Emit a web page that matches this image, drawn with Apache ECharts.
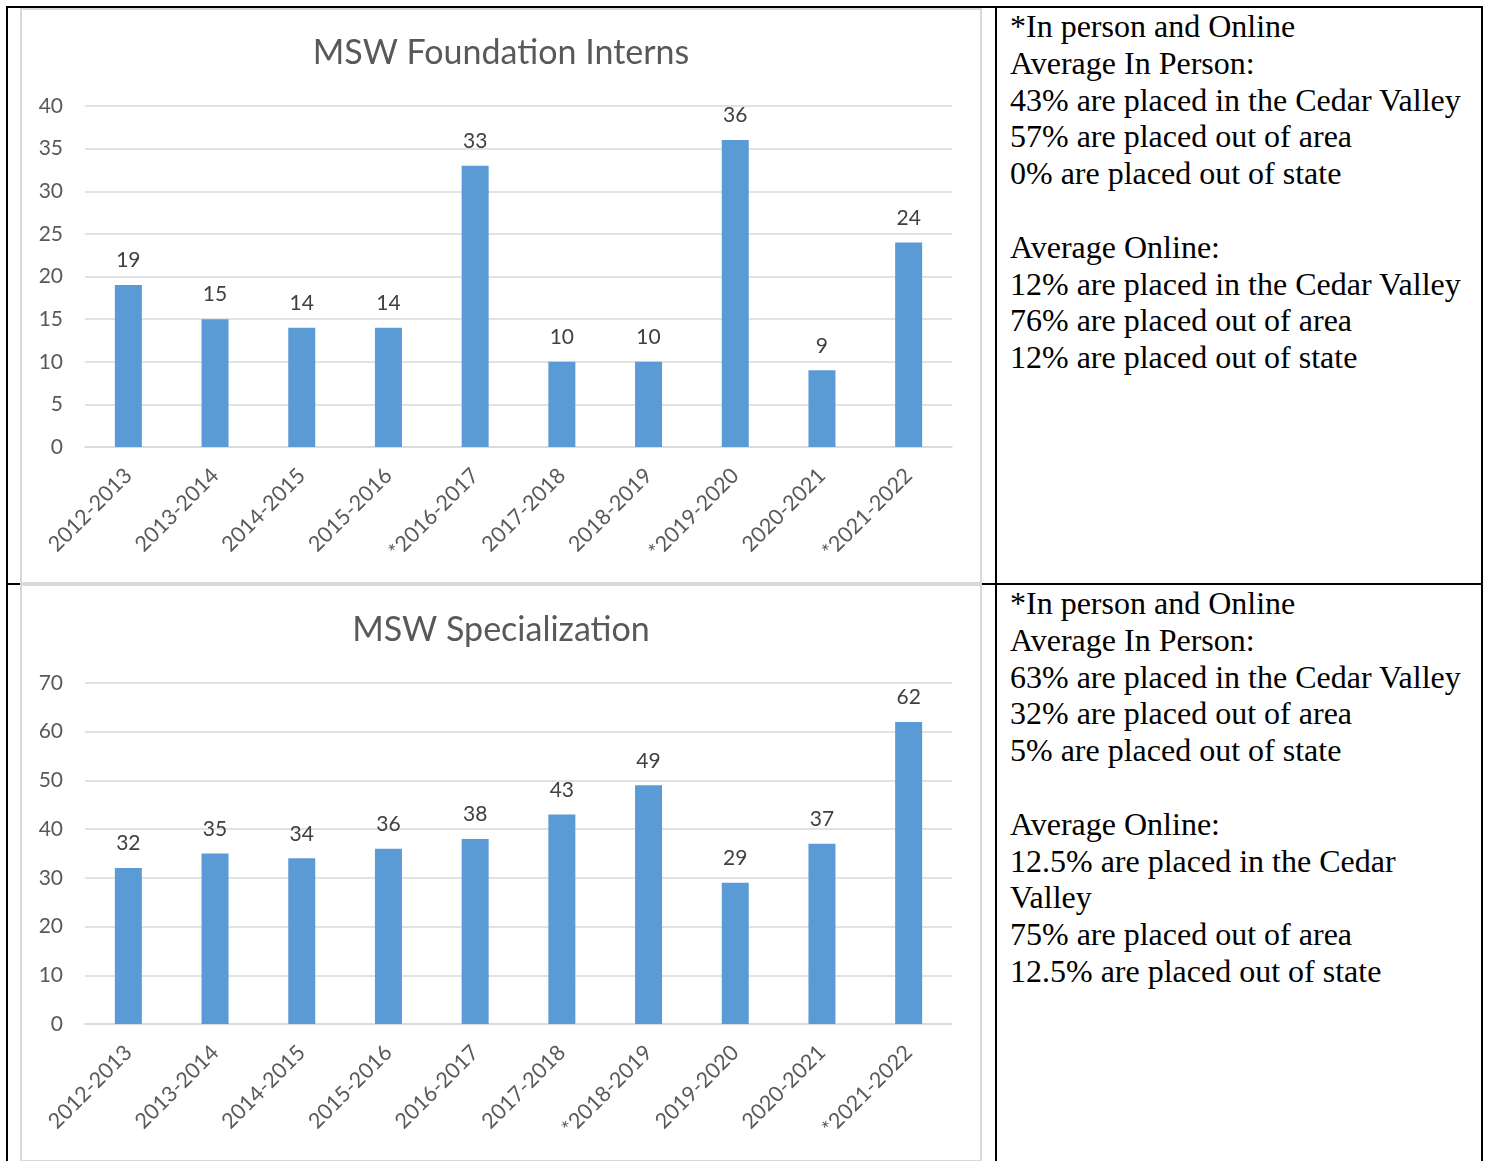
<!DOCTYPE html>
<html>
<head>
<meta charset="utf-8">
<script src="https://cdn.jsdelivr.net/npm/echarts@6/dist/echarts.min.js"></script>
<style>
  html, body { margin: 0; padding: 0; background: #fff; }
  body { width: 1486px; height: 1161px; position: relative; overflow: hidden; }
  .line { position: absolute; background: #000; }
  .frame { position: absolute; box-sizing: border-box; border: 2px solid #D9D9D9; }
  .chart { position: absolute; }
  .notes {
    position: absolute; left: 1010px; width: 468px;
    font-family: "Liberation Serif", "Times New Roman", serif;
    font-size: 32px; line-height: 36.8px; color: #000;
  }
  .notes div { min-height: 36.8px; }
</style>
</head>
<body>
<!-- table rules -->
<div class="line" style="left:6px;top:6px;width:1477px;height:2px"></div>
<div class="line" style="left:6px;top:6px;width:2px;height:1155px"></div>
<div class="line" style="left:995px;top:6px;width:2px;height:1155px"></div>
<div class="line" style="left:1481px;top:6px;width:2px;height:1155px"></div>
<div class="line" style="left:6px;top:583px;width:1477px;height:2px"></div>

<div class="frame" style="left:20px;top:8px;width:962px;height:576px"></div>
<div class="frame" style="left:20px;top:584px;width:962px;height:578px"></div>

<div id="chart1" class="chart" style="left:22px;top:10px;width:958px;height:572px"></div>
<div id="chart2" class="chart" style="left:22px;top:586px;width:958px;height:573px"></div>

<div class="notes" style="top:8px">
  <div>*In person and Online</div>
  <div>Average In Person:</div>
  <div>43% are placed in the Cedar Valley</div>
  <div>57% are placed out of area</div>
  <div>0% are placed out of state</div>
  <div></div>
  <div>Average Online:</div>
  <div>12% are placed in the Cedar Valley</div>
  <div>76% are placed out of area</div>
  <div>12% are placed out of state</div>
</div>

<div class="notes" style="top:585px">
  <div>*In person and Online</div>
  <div>Average In Person:</div>
  <div>63% are placed in the Cedar Valley</div>
  <div>32% are placed out of area</div>
  <div>5% are placed out of state</div>
  <div></div>
  <div>Average Online:</div>
  <div>12.5% are placed in the Cedar Valley</div>
  <div>75% are placed out of area</div>
  <div>12.5% are placed out of state</div>
</div>

<script>
// Foundation interns per academic year
const foundationYears = ['2012-2013', '2013-2014', '2014-2015', '2015-2016', '*2016-2017',
  '2017-2018', '2018-2019', '*2019-2020', '2020-2021', '*2021-2022'];
const foundationCounts = [19, 15, 14, 14, 33, 10, 10, 36, 9, 24];

// Specialization interns per academic year
const specYears = ['2012-2013', '2013-2014', '2014-2015', '2015-2016', '2016-2017',
  '2017-2018', '*2018-2019', '2019-2020', '2020-2021', '*2021-2022'];
const specCounts = [32, 35, 34, 36, 38, 43, 49, 29, 37, 62];

const FONT = 'Lato, "Open Sans", sans-serif';
const TEXT = '#595959';
const GRID = '#D9D9D9';
const BAR = '#5B9BD5';

function buildOption(title, cats, values, max, step, gridTop, titleTop) {
  return {
    animation: false,
    title: {
      text: title,
      left: 'center',
      top: titleTop,
      textStyle: { fontFamily: FONT, fontSize: 34, fontWeight: 'normal', color: TEXT }
    },
    grid: { left: 63, right: 28, top: gridTop, bottom: 135 },
    xAxis: {
      type: 'category',
      data: cats,
      axisLine: { lineStyle: { color: GRID, width: 1.5 } },
      axisTick: { show: false },
      axisLabel: { rotate: 45, margin: 25, fontFamily: FONT, fontSize: 21.5, color: TEXT, interval: 0 }
    },
    yAxis: {
      type: 'value',
      min: 0,
      max: max,
      interval: step,
      axisLine: { show: false },
      axisTick: { show: false },
      splitLine: { lineStyle: { color: GRID, width: 1.5 } },
      axisLabel: { margin: 22, fontFamily: FONT, fontSize: 21, color: TEXT }
    },
    series: [{
      type: 'bar',
      data: values,
      barWidth: 27,
      itemStyle: { color: BAR },
      label: { show: true, position: 'top', distance: 14, fontFamily: FONT, fontSize: 21, color: '#404040' }
    }]
  };
}

const c1 = echarts.init(document.getElementById('chart1'));
c1.setOption(buildOption('MSW Foundation Interns', foundationYears, foundationCounts, 40, 5, 96, 21));

const c2 = echarts.init(document.getElementById('chart2'));
c2.setOption(buildOption('MSW Specialization', specYears, specCounts, 70, 10, 97, 22));
</script>
</body>
</html>
